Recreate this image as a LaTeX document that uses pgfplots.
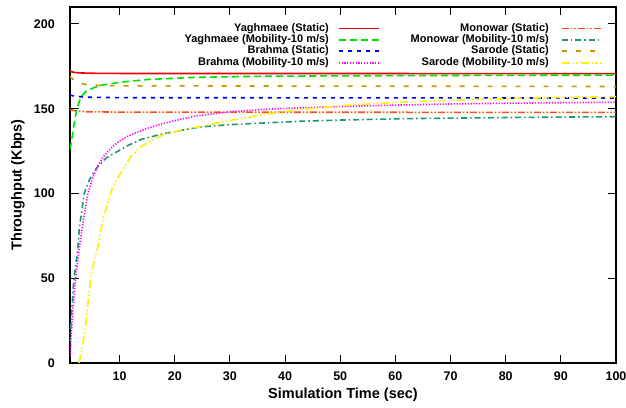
\documentclass[border=0pt]{standalone}
\usepackage{fontspec}
\setmainfont{Liberation Sans}
\usepackage{pgfplots}
\pgfplotsset{compat=1.18}

\definecolor{cYS}{RGB}{240,0,0}
\definecolor{cYM}{RGB}{0,225,0}
\definecolor{cBS}{RGB}{0,0,240}
\definecolor{cBM}{RGB}{255,0,255}
\definecolor{cMS}{RGB}{255,80,20}
\definecolor{cMM}{RGB}{32,150,110}
\definecolor{cSS}{RGB}{200,150,0}
\definecolor{cSM}{RGB}{255,240,0}

\begin{document}
\begin{tikzpicture}
\begin{axis}[
  scale only axis,
  width=546pt, height=356pt,
  xmin=1, xmax=100, ymin=0, ymax=210,
  xtick={10,20,...,100},
  ytick={0,50,...,200},
  axis line style={line width=1.2pt},
  major tick style={line width=0.9pt, black},
  major tick length=8.5pt,
  tick align=inside,
  /pgf/number format/assume math mode=true,
  ticklabel style={font=\fontsize{12.5}{14}\selectfont\bfseries},
  xticklabel style={anchor=center, yshift=-13pt},
  yticklabel style={anchor=east, inner sep=0pt, xshift=-15pt},
  xlabel={Simulation Time (sec)},
  ylabel={Throughput (Kbps)},
  every axis x label/.style={at={(axis description cs:0.5,-0.0899)}, anchor=center,
    font=\fontsize{14.5}{16}\selectfont\bfseries},
  every axis y label/.style={at={(axis description cs:-0.0952,0.5)}, rotate=90, anchor=center,
    font=\fontsize{14.5}{16}\selectfont\bfseries},
  every axis plot/.append style={line width=1.6pt},
  legend plot pos=right,
  legend columns=2,
  legend cell align=right,
  legend image code/.code={\draw[#1, line width=1.8pt] (0pt,0pt) -- (40pt,0pt);},
  legend style={draw=none, fill=none, inner sep=0pt, outer sep=0pt,
    font=\fontsize{11}{12}\selectfont\bfseries,
    at={(axis description cs:0.9755,0.9545)}, anchor=north east,
    row sep=0.9pt,
    nodes={inner sep=0pt, text height=8pt, text depth=2.5pt},
    /tikz/column 1/.style={column sep=9pt},
    /tikz/column 2/.style={column sep=31pt},
    /tikz/column 3/.style={column sep=12pt}},
]
\coordinate (SW) at (rel axis cs:0,0);
\coordinate (NE) at (rel axis cs:1,1);

% Yaghmaee, static nodes
\addplot[color=cYS, solid] coordinates {
 (1,172.2) (1.5,171.6) (2,171.3) (3,171.1) (5,170.9) (10,170.8) (100,170.7)};
\addlegendentry{Yaghmaee (Static)}
% Monowar, static nodes
\addplot[color=cMS, dash pattern=on 7pt off 2pt on 1.5pt off 2pt on 1.5pt off 2pt] coordinates {
 (1,149.5) (2,148.7) (4,148.2) (10,148) (100,147.8)};
\addlegendentry{Monowar (Static)}
% Yaghmaee, mobile nodes at 10 m/s
\addplot[color=cYM, dash pattern=on 7pt off 4pt] coordinates {
 (1,126) (1.3,131) (1.6,138) (1.9,144) (2.3,150) (2.7,154.5) (3.1,157.5)
 (4,160.5) (5.5,162.6) (7,164) (10,165.6) (15,167.2) (23.6,168.5)
 (35,169.1) (50,169.4) (70,169.6) (100,169.8)};
\addlegendentry{Yaghmaee (Mobility-10 m/s)}
% Monowar, mobile nodes at 10 m/s
\addplot[color=cMM, dash pattern=on 6pt off 3pt on 1.5pt off 3pt] coordinates {
 (1,12) (1.3,30) (1.6,45) (1.8,52) (2.4,67) (2.7,80) (3.6,100) (4.5,108)
 (5.8,115) (7.6,121) (8.5,122.8) (10,125.5) (11.6,128.5) (14,132)
 (17.6,135) (20,136.5) (24.5,139.2) (30,140.6) (42.7,142.6) (50,143.3)
 (61,144.1) (80,144.8) (100,145.3)};
\addlegendentry{Monowar (Mobility-10 m/s)}
% Brahma, static nodes
\addplot[color=cBS, dash pattern=on 4pt off 5pt] coordinates {
 (1,158) (2,157.3) (4,156.8) (10,156.5) (100,156.3)};
\addlegendentry{Brahma (Static)}
% Sarode, static nodes
\addplot[color=cSS, dash pattern=on 5pt off 9pt] coordinates {
 (1,169) (1.5,167.5) (2,166) (3,164.8) (4,164.2) (6,163.8) (10,163.5) (100,163.1)};
\addlegendentry{Sarode (Static)}
% Brahma, mobile nodes at 10 m/s
\addplot[color=cBM, dash pattern=on 1.2pt off 1.6pt] coordinates {
 (1,4) (1.5,30) (2,50) (2.5,63) (3,75) (3.5,86) (4.25,100) (5,108)
 (6,116) (7,121.5) (8.5,127) (10,131) (11.6,134) (14.6,138) (17.6,141)
 (20,143) (24,145.8) (30,148.2) (36,149.6) (42.7,150.5) (50,151.3)
 (61,152.2) (70,152.8) (85,153.4) (100,153.8)};
\addlegendentry{Brahma (Mobility-10 m/s)}
% Sarode, mobile nodes at 10 m/s
\addplot[color=cSM, dash pattern=on 8pt off 3pt on 1.5pt off 2pt on 1.5pt off 3pt] coordinates {
 (2.6,0) (2.8,2.4) (3.7,18) (4.8,51.5) (5.95,67.3) (7,85) (8.8,104.6)
 (10,111) (12.1,122) (14,128) (17.8,134.5) (20,136.5) (24.5,139.5)
 (30,143) (36,146.5) (42,149.3) (50,151.8) (60,153.7) (70,155)
 (80,156) (90,156.6) (100,157.1)};
\addlegendentry{Sarode (Mobility-10 m/s)}
\end{axis}
\pgfresetboundingbox
\path[use as bounding box] ([shift={(-70pt,-44pt)}]SW) rectangle ([shift={(10pt,7pt)}]NE);
\end{tikzpicture}
\end{document}
